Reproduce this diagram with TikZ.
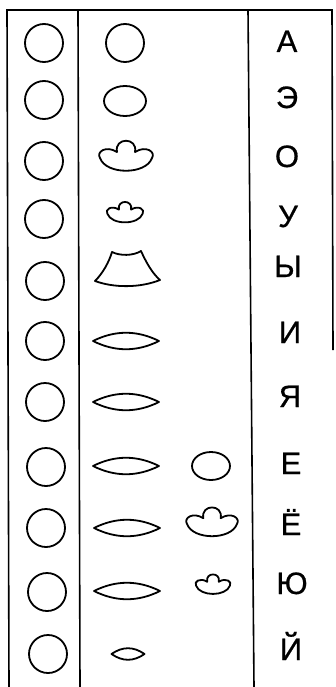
\documentclass[tikz,border=0pt]{standalone}
\usepackage{fontspec}
\setmainfont{Liberation Sans}
\newfontfamily\lettersfont[FakeBold=0.6]{Liberation Sans}
\tikzset{
  frame/.style={line width=1.6pt},
  mouth/.style={line width=1.8pt, line join=round},
  letter/.style={anchor=base, inner sep=0pt, font=\lettersfont\fontsize{31}{31}\selectfont},
  cloud/.pic={\draw[mouth] (-9,-5) .. controls (-12,-20) and (12,-20) .. (9,-5)
      .. controls (20,-12) and (30,-5) .. (26,1)
      .. controls (20,18) and (-20,18) .. (-26,1)
      .. controls (-30,-5) and (-20,-12) .. cycle;},
  lens/.pic={\draw[mouth] (-33,0) .. controls (-11,-11) and (11,-11) .. (33,0)
      .. controls (11,11) and (-11,11) .. cycle;}
}
\begin{document}
\begin{tikzpicture}[x=1pt,y=-1pt]
  \useasboundingbox (0,0) rectangle (335,687);
  % table frame (open at the bottom)
  \draw[frame] (9,687) -- (7,10) -- (332,10) -- (333,350);
  \draw[frame] (78,10) -- (80,687);
  \draw[frame] (248,10) -- (254,687);
  % first column: round mouth in every row
  \foreach \y/\x in {43/44,100/44,161/44,219/44,281/45,341/45,402/45,467/46,528/46,592/47,654/48}
    {\draw[mouth] (\x,\y) circle[radius=19];}
  % second column: mouth shapes
  \draw[mouth] (125,43) circle[radius=19];
  \draw[mouth] (125,101) ellipse[x radius=21,y radius=15];
  \pic at (126,157) {cloud};
  \pic[scale=0.68] at (125,213) {cloud};
  \draw[mouth] (112,252) .. controls (120,256) and (133,256) .. (141,251)
    .. controls (146,262) and (152,273) .. (160,280)
    .. controls (140,288) and (114,288) .. (95,281)
    .. controls (103,273) and (109,262) .. cycle;
  \foreach \y/\x in {341/126,402/126,466/126,528/127,591/127}
    {\pic at (\x,\y) {lens};}
  \pic[xscale=0.5,yscale=0.7] at (128,654) {lens};
  % glide to the second vowel
  \draw[mouth] (211,466) ellipse[x radius=19,y radius=14];
  \pic[scale=0.96] at (212,523) {cloud};
  \pic[scale=0.65] at (213,585) {cloud};
  % letters
  \foreach \t/\y/\x/\n in {А/52/287/a,Э/108/287/e,О/167/287/o,У/227/288/u,Ы/277/288/y,
      И/343/290/i,Я/407/290/ya,Е/474/291/ye,Ё/535/291/yo,Ю/594/292/yu,Й/660/291/yj}
    {\node[letter] (let\n) at (\x,\y) {\t};}
\end{tikzpicture}
\end{document}
